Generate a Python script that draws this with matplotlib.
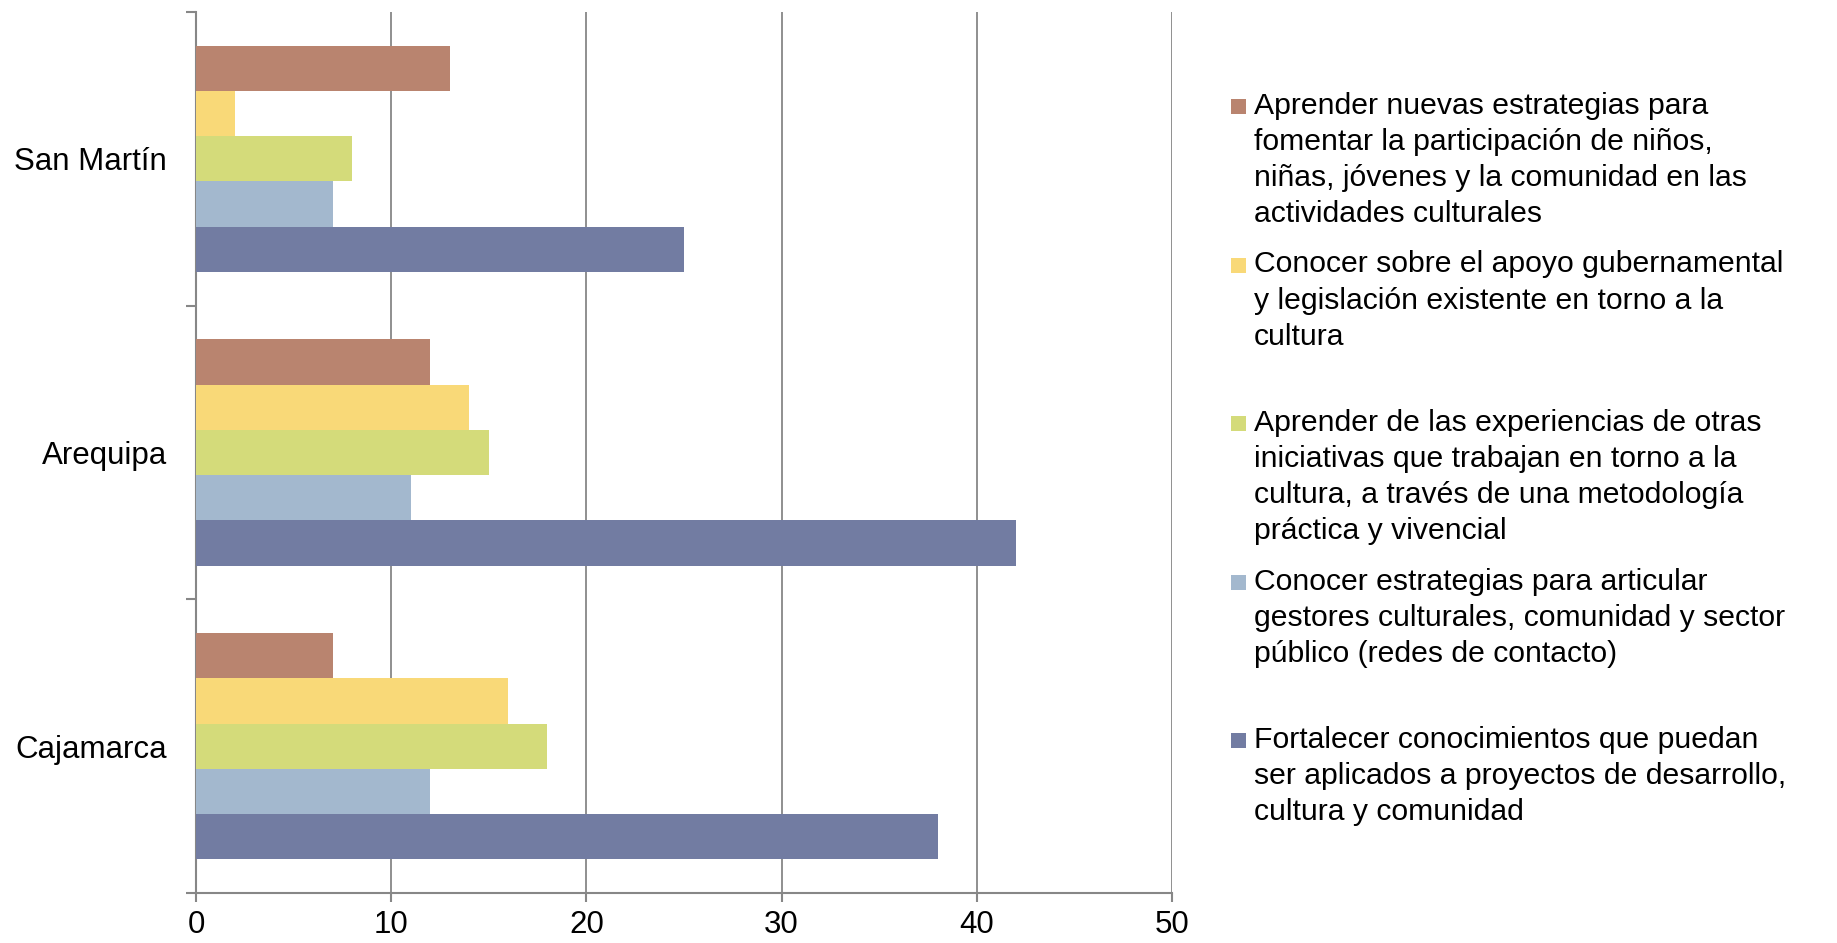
import matplotlib
matplotlib.use("Agg")
import matplotlib.pyplot as plt
from matplotlib.patches import Rectangle
import numpy as np

plt.rcParams['font.family'] = ['Liberation Sans', 'DejaVu Sans']

categories = ["Cajamarca", "Arequipa", "San Martín"]
series_labels = [
    "Aprender nuevas estrategias para\nfomentar la participación de niños,\nniñas, jóvenes y la comunidad en las\nactividades culturales",
    "Conocer sobre el apoyo gubernamental\ny legislación existente en torno a la\ncultura",
    "Aprender de las experiencias de otras\niniciativas que trabajan en torno a la\ncultura, a través de una metodología\npráctica y vivencial",
    "Conocer estrategias para articular\ngestores culturales, comunidad y sector\npúblico (redes de contacto)",
    "Fortalecer conocimientos que puedan\nser aplicados a proyectos de desarrollo,\ncultura y comunidad",
]
# values per series, in category order (Cajamarca, Arequipa, San Martín)
aprender_nuevas = [7, 12, 13]
apoyo_gubernamental = [16, 14, 2]
experiencias = [18, 15, 8]
redes = [12, 11, 7]
fortalecer = [38, 42, 25]
series_values = [aprender_nuevas, apoyo_gubernamental, experiencias, redes, fortalecer]
colors = ["#B9846F", "#F9D978", "#D4DB7A", "#A3B8CE", "#727CA2"]
xticks = [0, 10, 20, 30, 40, 50]

W, H = 1837, 943
fig = plt.figure(figsize=(W / 100, H / 100), dpi=100)
ax = fig.add_axes([196 / W, 1 - 893 / H, (1172 - 196) / W, (893 - 12) / H])

n = len(series_values)
bar_h = 0.154
y = np.arange(len(categories))
for i, (vals, col) in enumerate(zip(series_values, colors)):
    offset = (n - 1) / 2 * bar_h - i * bar_h
    ax.barh(y + offset, vals, height=bar_h, color=col, edgecolor='none', zorder=3)

ax.set_xlim(0, 50)
ax.set_ylim(-0.5, len(categories) - 0.5)
ax.set_xticks(xticks)
ax.set_xticklabels([str(t) for t in xticks], fontsize=22.5)
ax.set_yticks(y)
ax.set_yticklabels(categories, fontsize=22.5)
ax.tick_params(axis='y', length=0, pad=21)
ax.set_yticks(np.arange(len(categories) + 1) - 0.5, minor=True)
ax.tick_params(axis='y', which='minor', length=7, color='#878787', width=1.5)
ax.tick_params(axis='x', length=6.5, color='#878787', width=1.5, pad=6)
ax.grid(axis='x', color='#878787', linewidth=1.3, zorder=0)
for s in ['top', 'right']:
    ax.spines[s].set_visible(False)
for s in ['left', 'bottom']:
    ax.spines[s].set_color('#878787')
    ax.spines[s].set_linewidth(1.5)

# legend (Excel-style, evenly spaced slots)
y0 = 92
slot = 158.5
for i, (lab, col) in enumerate(zip(series_labels, colors)):
    top = y0 + i * slot
    fig.add_artist(Rectangle((1231 / W, 1 - (top + 22) / H), 15 / W, 15 / H,
                             transform=fig.transFigure, color=col, lw=0))
    fig.text(1254 / W, 1 - top / H, lab, fontsize=21.7, va='top', ha='left',
             linespacing=1.37)

fig.savefig("out.png", dpi=100)
